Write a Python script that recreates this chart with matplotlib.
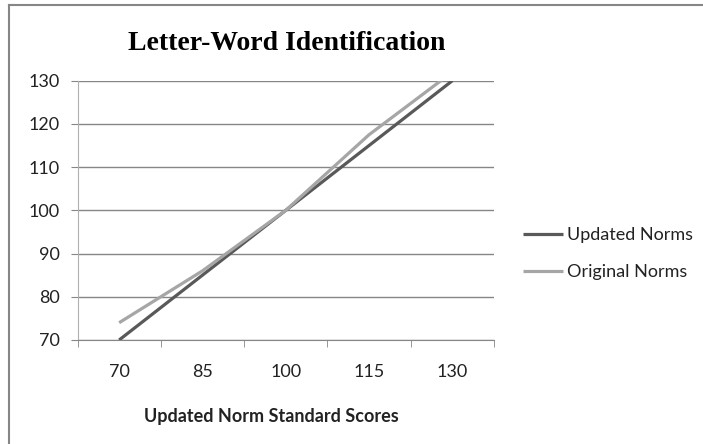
import matplotlib.pyplot as plt
from matplotlib.lines import Line2D

categories = ['70', '85', '100', '115', '130']
updated_norms = [70, 85, 100, 115, 130]
original_norms = [74, 86, 100, 117.5, 132]
y_ticks = [70, 80, 90, 100, 110, 120, 130]

W, H = 703, 444
fig = plt.figure(figsize=(W / 100, H / 100), dpi=100)
ax = fig.add_axes([77.5 / W, 1 - 340 / H, (494 - 77.5) / W, (340 - 80.7) / H])

x = list(range(len(categories)))
ax.plot(x, updated_norms, color='#595959', linewidth=2.3, label='Updated Norms',
        solid_capstyle='butt')
ax.plot(x, original_norms, color='#a6a6a6', linewidth=2.3, label='Original Norms',
        solid_capstyle='butt')

ax.set_xlim(-0.5, len(categories) - 0.5)
ax.set_ylim(70, 130)
ax.set_yticks(y_ticks)
ax.set_xticks(x)
ax.set_xticklabels(categories)
ax.set_xticks([i - 0.5 for i in range(len(categories) + 1)], minor=True)
ax.tick_params(axis='x', which='major', length=0, pad=17, labelsize=13, labelcolor='#222222')
ax.tick_params(axis='x', which='minor', length=5, direction='out', color='#868686')
ax.tick_params(axis='y', length=5, direction='out', color='#868686', labelsize=13,
               labelcolor='#222222', pad=8)
for lab in ax.get_xticklabels() + ax.get_yticklabels():
    lab.set_family('Lato')

ax.grid(axis='y', color='#868686', linewidth=1)
ax.set_axisbelow(True)
for side in ['top', 'right']:
    ax.spines[side].set_visible(False)
ax.spines['left'].set_color('#b0b0b0')
ax.spines['bottom'].set_color('#868686')

fig.text(287 / W, 1 - 44 / H, 'Letter-Word Identification', ha='center', va='center',
         fontsize=20, fontweight='bold', family='Liberation Serif')
fig.text(271 / W, 1 - 416 / H, 'Updated Norm Standard Scores', ha='center', va='center',
         fontsize=13, fontweight='bold', family='Lato', color='#222222')

leg = fig.legend(loc='center left', bbox_to_anchor=(523 / W, 1 - 253.5 / H),
                 frameon=False, borderpad=0, borderaxespad=0, handlelength=2.2,
                 handletextpad=0.22, labelspacing=1.15, prop={'family': 'Lato', 'size': 13})
for t in leg.get_texts():
    t.set_color('#222222')

# chart area border (only top and left visible)
fig.add_artist(Line2D([8.5 / W, 1], [1 - 5 / H, 1 - 5 / H], transform=fig.transFigure,
                      color='#868686', linewidth=1.5))
fig.add_artist(Line2D([8.5 / W, 8.5 / W], [0, 1 - 5 / H], transform=fig.transFigure,
                      color='#868686', linewidth=1.5))

fig.savefig('out.png', dpi=100)
